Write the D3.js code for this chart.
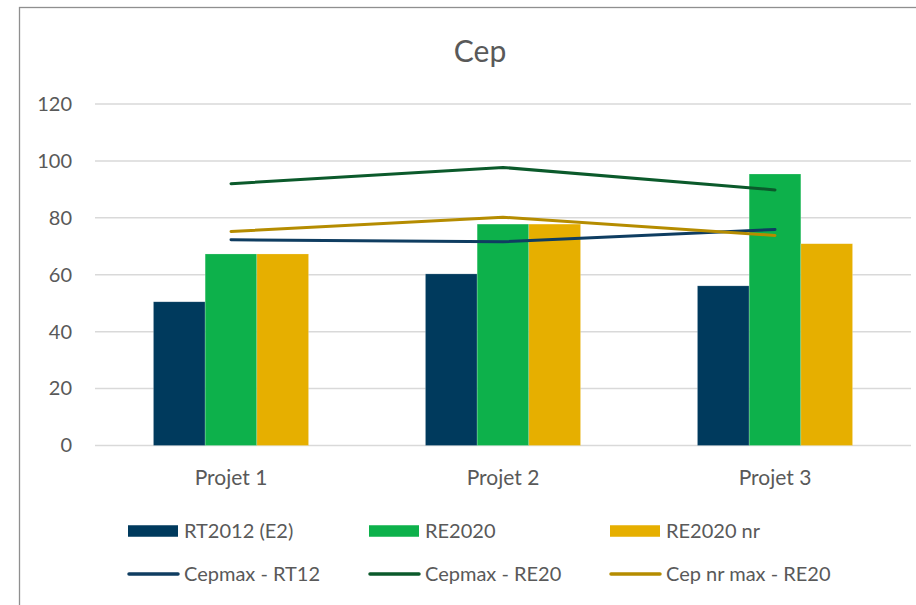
<!DOCTYPE html>
<html>
<head>
<meta charset="utf-8">
<script src="https://cdn.jsdelivr.net/npm/d3@7"></script>
<style>
  html, body { margin: 0; padding: 0; background: #fff; }
  svg { display: block; font-family: Lato, 'Open Sans', sans-serif; }
</style>
</head>
<body>
<svg id="chart" width="916" height="605"></svg>
<script>
// values
var categories = ['Projet 1', 'Projet 2', 'Projet 3']
var rt2012 = [50.5, 60.3, 56.1]
var re2020 = [67.3, 77.8, 95.4]
var re2020nr = [67.3, 77.8, 70.9]
var cepmaxRT12 = [72.3, 71.6, 75.9]
var cepmaxRE20 = [92.0, 97.7, 89.8]
var cepNrMaxRE20 = [75.2, 80.2, 73.8]
var yTicks = [0, 20, 40, 60, 80, 100, 120]

var barSeries = [
  { name: 'RT2012 (E2)', values: rt2012, color: '#003a5d' },
  { name: 'RE2020', values: re2020, color: '#0db14b' },
  { name: 'RE2020 nr', values: re2020nr, color: '#e6af00' }
]
var lineSeries = [
  { name: 'Cepmax - RT12', values: cepmaxRT12, color: '#0f3d61' },
  { name: 'Cepmax - RE20', values: cepmaxRE20, color: '#0b5a2b' },
  { name: 'Cep nr max - RE20', values: cepNrMaxRE20, color: '#b58c00' }
]

var svg = d3.select('#chart')
var textColor = '#595959'

// chart frame (right / bottom edges fall outside the picture)
svg.append('rect')
  .attr('x', 19.5).attr('y', 7.5)
  .attr('width', 1000).attr('height', 700)
  .attr('fill', 'none')
  .attr('stroke', '#8f8f8f')
  .attr('stroke-width', 1.3)

svg.append('text')
  .attr('x', 480).attr('y', 62)
  .attr('text-anchor', 'middle')
  .attr('font-size', 30)
  .attr('fill', textColor)
  .text('Cep')

var x0 = d3.scaleBand().domain(categories).range([95, 911])
var x1 = d3.scaleBand().domain(barSeries.map((s) => s.name))
  .range([0, x0.bandwidth()])
  .paddingOuter(1.13)
var y = d3.scaleLinear().domain([0, 120]).range([445.5, 104])

// gridlines
svg.append('g')
  .selectAll('line')
  .data(yTicks)
  .join('line')
  .attr('x1', 95).attr('x2', 911)
  .attr('y1', (d) => y(d)).attr('y2', (d) => y(d))
  .attr('stroke', '#d9d9d9')
  .attr('stroke-width', 1.5)

// y labels
var yAxis = svg.append('g')
  .attr('transform', 'translate(95,0)')
  .call(d3.axisLeft(y).tickValues(yTicks).tickSize(0).tickPadding(23))
yAxis.select('.domain').remove()
yAxis.selectAll('text')
  .attr('font-size', 20)
  .attr('font-family', 'Lato')
  .attr('fill', textColor)

// bars
var groups = svg.append('g')
  .selectAll('g')
  .data(barSeries)
  .join('g')
  .attr('fill', (s) => s.color)

groups.selectAll('rect')
  .data((s) => s.values.map((v, i) => ({ s: s, v: v, c: categories[i] })))
  .join('rect')
  .attr('x', (d) => x0(d.c) + x1(d.s.name))
  .attr('width', x1.bandwidth())
  .attr('y', (d) => y(d.v))
  .attr('height', (d) => y(0) - y(d.v))
  .attr('stroke', '#ffffff')
  .attr('stroke-opacity', 0.35)
  .attr('stroke-width', 0.6)

// x labels
var xAxis = svg.append('g')
  .attr('transform', 'translate(0,' + y(0) + ')')
  .call(d3.axisBottom(x0).tickSize(0).tickPadding(0))
xAxis.select('.domain').remove()
xAxis.selectAll('text')
  .attr('dy', null)
  .attr('y', 39.5)
  .attr('font-size', 21)
  .attr('font-family', 'Lato')
  .attr('fill', textColor)

// lines
var line = d3.line()
  .x((d, i) => x0(categories[i]) + x0.bandwidth() / 2)
  .y((d) => y(d))

svg.append('g')
  .selectAll('path')
  .data(lineSeries)
  .join('path')
  .attr('d', (s) => line(s.values))
  .attr('fill', 'none')
  .attr('stroke', (s) => s.color)
  .attr('stroke-width', 3)
  .attr('stroke-linecap', 'round')
  .attr('stroke-linejoin', 'round')

// legend
var legendCols = [128, 369, 610]
var legendRows = [531, 574]

var barLegend = svg.append('g')
  .selectAll('g')
  .data(barSeries)
  .join('g')
  .attr('transform', (d, i) => 'translate(' + legendCols[i] + ',' + legendRows[0] + ')')
barLegend.append('rect')
  .attr('x', 0).attr('y', -5.75)
  .attr('width', 50).attr('height', 11.5)
  .attr('fill', (d) => d.color)
barLegend.append('text')
  .attr('x', 56).attr('dy', '0.35em')
  .attr('font-size', 20)
  .attr('fill', textColor)
  .text((d) => d.name)

var lineLegend = svg.append('g')
  .selectAll('g')
  .data(lineSeries)
  .join('g')
  .attr('transform', (d, i) => 'translate(' + legendCols[i] + ',' + legendRows[1] + ')')
lineLegend.append('line')
  .attr('x1', 1).attr('x2', 50)
  .attr('stroke', (d) => d.color)
  .attr('stroke-width', 3.5)
  .attr('stroke-linecap', 'round')
lineLegend.append('text')
  .attr('x', 56).attr('dy', '0.35em')
  .attr('font-size', 20)
  .attr('fill', textColor)
  .text((d) => d.name)
</script>
</body>
</html>
